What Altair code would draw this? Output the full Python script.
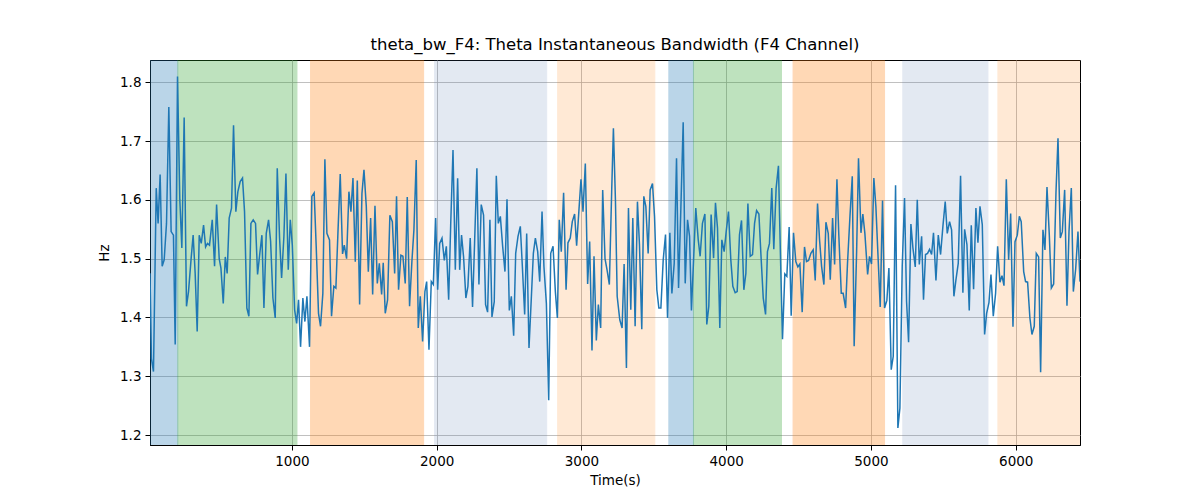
import altair as alt
import pandas as pd

# ---- series (time in s, instantaneous bandwidth in Hz) ----
time_a = [20, 30, 44, 63, 76, 90, 104, 118, 134, 150, 166, 182, 194, 210, 226, 240, 256, 272, 286, 305,
          318, 332, 346, 360, 374, 390, 404, 417, 431, 450, 466, 480, 498, 510, 526, 540, 553, 567, 583, 597,
          613, 627, 643, 659, 673, 689, 703, 717, 733, 749, 763, 779, 793, 807, 823, 839, 853, 869, 885, 899,
          915, 929, 945, 959, 975, 989, 1003, 1019, 1033, 1046, 1060, 1076]
hz_a = [1.475, 1.33, 1.308, 1.62, 1.56, 1.643, 1.487, 1.498, 1.56, 1.758, 1.546, 1.54, 1.354, 1.81, 1.6, 1.518, 1.74, 1.419, 1.444, 1.503,
        1.54, 1.475, 1.376, 1.54, 1.526, 1.557, 1.52, 1.526, 1.523, 1.566, 1.487, 1.592, 1.5, 1.484, 1.424, 1.503, 1.475, 1.569, 1.586, 1.727,
        1.58, 1.614, 1.631, 1.637, 1.58, 1.416, 1.402, 1.56, 1.566, 1.56, 1.473, 1.51, 1.54, 1.416, 1.543, 1.566, 1.53, 1.433, 1.399, 1.654,
        1.535, 1.467, 1.538, 1.645, 1.481, 1.566, 1.523, 1.413, 1.39, 1.43, 1.35, 1.433]

time_b = [1090, 1104, 1122, 1138, 1154, 1168, 1184, 1198, 1214, 1228, 1242, 1260, 1274, 1290, 1304, 1318, 1334, 1350, 1362, 1378,
          1394, 1408, 1422, 1438, 1452, 1468, 1484, 1498, 1514, 1528, 1544, 1558, 1574, 1590, 1604, 1620, 1631, 1645, 1661, 1677,
          1694, 1710, 1723, 1737, 1753, 1767, 1783, 1797, 1813, 1829, 1843, 1859, 1873, 1887, 1903, 1919, 1931, 1947, 1963, 1977,
          1993, 2007, 2021, 2037, 2053, 2067, 2083, 2097, 2113]
hz_b = [1.393, 1.436, 1.35, 1.606, 1.612, 1.521, 1.407, 1.385, 1.441, 1.669, 1.543, 1.532, 1.402, 1.453, 1.45, 1.543, 1.644, 1.508, 1.523, 1.5,
        1.614, 1.58, 1.637, 1.495, 1.633, 1.422, 1.611, 1.651, 1.589, 1.478, 1.569, 1.439, 1.59, 1.458, 1.492, 1.439, 1.493, 1.407, 1.43, 1.574,
        1.563, 1.475, 1.606, 1.447, 1.506, 1.504, 1.458, 1.605, 1.419, 1.495, 1.549, 1.668, 1.382, 1.436, 1.359, 1.444, 1.461, 1.345, 1.461, 1.456,
        1.569, 1.447, 1.526, 1.535, 1.497, 1.521, 1.43, 1.557, 1.685]

time_c = [2129, 2145, 2159, 2172, 2186, 2202, 2216, 2232, 2248, 2262, 2278, 2292, 2308, 2324, 2338, 2352, 2368, 2382, 2398, 2412,
          2426, 2440, 2456, 2472, 2486, 2502, 2516, 2532, 2546, 2562, 2578, 2592, 2608, 2622, 2638, 2654, 2668, 2682, 2698, 2712,
          2728, 2741, 2758, 2774, 2788, 2804, 2820, 2834, 2847, 2861, 2877, 2894, 2907, 2923, 2937, 2953, 2967, 2983, 2997, 3011,
          3027, 3043, 3057, 3073, 3087, 3103, 3117, 3133, 3147, 3163, 3177, 3193, 3209, 3221]
hz_c = [1.481, 1.637, 1.481, 1.54, 1.503, 1.433, 1.453, 1.535, 1.418, 1.526, 1.654, 1.456, 1.592, 1.574, 1.422, 1.409, 1.566, 1.401, 1.427, 1.641,
        1.56, 1.572, 1.521, 1.478, 1.601, 1.412, 1.436, 1.369, 1.509, 1.538, 1.555, 1.487, 1.405, 1.543, 1.348, 1.433, 1.509, 1.535, 1.512, 1.461,
        1.58, 1.487, 1.424, 1.259, 1.509, 1.521, 1.444, 1.399, 1.566, 1.512, 1.612, 1.447, 1.527, 1.535, 1.563, 1.576, 1.522, 1.583, 1.635, 1.58,
        1.662, 1.457, 1.529, 1.344, 1.504, 1.361, 1.422, 1.382, 1.617, 1.5, 1.481, 1.456, 1.614, 1.722]

time_d = [3235, 3247, 3265, 3281, 3295, 3311, 3325, 3341, 3355, 3371, 3387, 3401, 3417, 3431, 3445, 3461, 3475, 3491, 3505, 3521,
          3535, 3549, 3565, 3581, 3595, 3611, 3625, 3641, 3657, 3671, 3687, 3703, 3717, 3733, 3747, 3760, 3790, 3807, 3820, 3836,
          3853, 3866, 3880, 3896, 3913, 3926, 3940, 3956, 3970, 3986, 4000, 4016, 4032, 4046, 4062, 4076, 4092, 4106, 4122, 4136,
          4150, 4166, 4182, 4196, 4210, 4226, 4240, 4256]
hz_d = [1.6, 1.436, 1.396, 1.382, 1.491, 1.314, 1.586, 1.413, 1.569, 1.385, 1.597, 1.524, 1.38, 1.606, 1.589, 1.509, 1.617, 1.628, 1.572, 1.447,
        1.416, 1.416, 1.498, 1.541, 1.399, 1.544, 1.441, 1.492, 1.671, 1.45, 1.586, 1.732, 1.458, 1.566, 1.538, 1.412, 1.586, 1.532, 1.504, 1.56,
        1.576, 1.388, 1.419, 1.575, 1.501, 1.595, 1.552, 1.382, 1.532, 1.512, 1.546, 1.58, 1.498, 1.453, 1.442, 1.444, 1.541, 1.565, 1.447, 1.475,
        1.594, 1.504, 1.507, 1.56, 1.582, 1.576, 1.507, 1.433]

time_e = [4272, 4285, 4299, 4315, 4329, 4345, 4361, 4375, 4389, 4405, 4419, 4435, 4449, 4465, 4481, 4495, 4509, 4525, 4541, 4555,
          4569, 4585, 4601, 4615, 4631, 4645, 4659, 4675, 4689, 4705, 4719, 4735, 4749, 4765, 4778, 4795, 4808, 4825, 4838, 4855,
          4871, 4884, 4901, 4914, 4931, 4944, 4958, 4977, 4990, 5004, 5020, 5034, 5048, 5064, 5080, 5094, 5110, 5124, 5140, 5154,
          5170, 5186, 5200, 5216, 5232, 5246, 5260, 5276, 5290, 5306, 5320, 5334]
hz_e = [1.405, 1.512, 1.526, 1.62, 1.516, 1.62, 1.658, 1.504, 1.363, 1.474, 1.47, 1.554, 1.403, 1.544, 1.495, 1.486, 1.491, 1.409, 1.52, 1.495,
        1.497, 1.509, 1.515, 1.463, 1.594, 1.532, 1.487, 1.456, 1.562, 1.543, 1.464, 1.569, 1.49, 1.635, 1.54, 1.441, 1.441, 1.416, 1.492, 1.572,
        1.64, 1.351, 1.512, 1.671, 1.544, 1.576, 1.543, 1.473, 1.504, 1.491, 1.637, 1.589, 1.509, 1.418, 1.599, 1.416, 1.429, 1.484, 1.311, 1.334,
        1.625, 1.212, 1.246, 1.487, 1.603, 1.427, 1.358, 1.559, 1.518, 1.486, 1.6, 1.49]

time_f = [5350, 5363, 5377, 5391, 5405, 5419, 5432, 5449, 5465, 5481, 5497, 5513, 5527, 5543, 5557, 5573, 5587, 5603, 5619, 5635,
          5647, 5663, 5679, 5693, 5709, 5725, 5739, 5753, 5769, 5785, 5799, 5815, 5829, 5845, 5861, 5875, 5891, 5905, 5919, 5935,
          5951, 5965, 5981, 5995, 6011, 6025, 6038, 6055, 6068, 6082, 6098, 6112, 6128, 6142, 6158, 6172, 6188, 6202, 6216, 6232,
          6246, 6262, 6278, 6292, 6308, 6322, 6338, 6354, 6368, 6384, 6398, 6414, 6430, 6444]
hz_f = [1.538, 1.43, 1.507, 1.509, 1.516, 1.507, 1.544, 1.463, 1.54, 1.507, 1.555, 1.597, 1.543, 1.563, 1.549, 1.436, 1.464, 1.492, 1.641, 1.442,
        1.55, 1.524, 1.412, 1.557, 1.448, 1.586, 1.527, 1.589, 1.558, 1.371, 1.407, 1.425, 1.473, 1.402, 1.441, 1.521, 1.46, 1.471, 1.454, 1.635,
        1.498, 1.577, 1.384, 1.529, 1.54, 1.572, 1.563, 1.478, 1.461, 1.46, 1.399, 1.371, 1.385, 1.509, 1.503, 1.307, 1.549, 1.515, 1.622, 1.54,
        1.45, 1.457, 1.612, 1.705, 1.535, 1.546, 1.617, 1.42, 1.546, 1.62, 1.444, 1.482, 1.546, 1.461]

# ---- shaded segments ----
band_start = [0, 212, 1129, 1986, 2836, 3604, 3774, 4462, 5220, 5877]
band_end = [212, 1035, 1910, 2760, 3507, 3774, 4382, 5094, 5808, 6500]
band_color = ["#1f77b4", "#2ca02c", "#ff7f0e", "#4c72b0", "#ff7f0e",
              "#1f77b4", "#2ca02c", "#ff7f0e", "#4c72b0", "#ff7f0e"]
band_alpha = [0.3, 0.3, 0.3, 0.15, 0.17, 0.3, 0.3, 0.3, 0.15, 0.17]

x_ticks = [1000, 2000, 3000, 4000, 5000, 6000]
y_ticks = [1.2, 1.3, 1.4, 1.5, 1.6, 1.7, 1.8]
X_DOMAIN = [20, 6444]
Y_DOMAIN = [1.183, 1.838]

times, values = [], []
for t, v in [(time_a, hz_a), (time_b, hz_b), (time_c, hz_c), (time_d, hz_d), (time_e, hz_e), (time_f, hz_f)]:
    n = min(len(t), len(v))
    times += t[:n]
    values += v[:n]

series = pd.DataFrame({"t": times, "hz": values})
bands = pd.DataFrame({"start": band_start, "end": band_end, "color": band_color, "alpha": band_alpha})

x_scale = alt.Scale(domain=X_DOMAIN, nice=False, zero=False)
y_scale = alt.Scale(domain=Y_DOMAIN, nice=False, zero=False)

band_layer = alt.Chart(bands).mark_rect(clip=True, strokeWidth=1).encode(
    x=alt.X("start:Q", scale=x_scale,
            axis=alt.Axis(values=x_ticks, format="d", title="Time(s)", titlePadding=6)),
    x2="end:Q",
    color=alt.Color("color:N", scale=None),
    stroke=alt.Stroke("color:N", scale=None),
    opacity=alt.Opacity("alpha:Q", scale=None),
)

line_layer = alt.Chart(series).mark_line(color="#1f77b4", strokeWidth=1.5, clip=True).encode(
    x=alt.X("t:Q", scale=x_scale),
    y=alt.Y("hz:Q", scale=y_scale,
            axis=alt.Axis(values=y_ticks, format=".1f", title="Hz", titlePadding=8)),
)

chart = alt.layer(band_layer, line_layer).properties(
    width=930,
    height=385,
    title="theta_bw_F4: Theta Instantaneous Bandwidth (F4 Channel)",
    autosize=alt.AutoSizeParams(type="none"),
    padding={"left": 142, "top": 52, "right": 112, "bottom": 47},
).configure_view(
    stroke="black", strokeWidth=1
).configure_axis(
    labelFont="DejaVu Sans", titleFont="DejaVu Sans",
    labelFontSize=13.5, titleFontSize=13.5, titleFontWeight="normal",
    labelColor="black", titleColor="black",
    domainColor="black", domainWidth=1,
    tickColor="black", tickWidth=1, tickSize=5, labelPadding=4,
    gridColor="#b0b0b0", gridWidth=0.8,
    labelFlush=False,
).configure_title(
    font="DejaVu Sans", fontSize=16.5, fontWeight="normal", color="black", offset=7
)

chart.save("out.html", embed_options={"renderer": "svg", "actions": False})
